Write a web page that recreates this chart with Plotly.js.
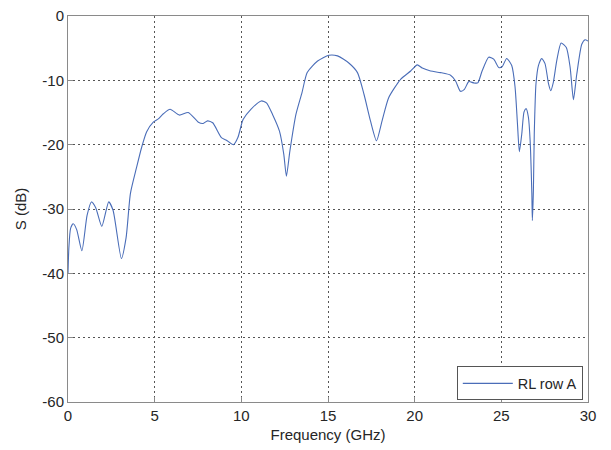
<!DOCTYPE html>
<html>
<head>
<meta charset="utf-8">
<script src="https://cdn.plot.ly/plotly-3.0.1.min.js"></script>
<style>html,body{margin:0;padding:0;background:#fff;}#chart{width:611px;height:450px;}</style>
</head>
<body>
<div id="chart"></div>
<script>
const freqGHz = [0, 0.05, 0.15, 0.3, 0.5, 0.8, 1.1, 1.35, 1.6, 1.95, 2.35, 2.6, 3.08, 3.35, 3.6, 3.96, 4.25, 4.54, 4.92, 5.21, 5.5, 5.89, 6.42, 6.94, 7.52, 7.8, 8.05, 8.35, 8.85, 9.14, 9.55, 9.8, 10.1, 10.55, 11.15, 11.45, 11.8, 12.2, 12.45, 12.6, 12.8, 13.15, 13.5, 13.8, 14.4, 15.05, 15.55, 16.2, 16.7, 17.08, 17.45, 17.8, 18.12, 18.5, 19.2, 19.77, 20.15, 20.44, 20.92, 21.49, 22.07, 22.36, 22.64, 22.87, 23.12, 23.41, 23.64, 23.89, 24.27, 24.56, 24.85, 25.04, 25.31, 25.6, 25.79, 25.93, 26.04, 26.18, 26.31, 26.43, 26.56, 26.66, 26.76, 26.79, 26.85, 26.9, 27.0, 27.14, 27.33, 27.52, 27.72, 27.85, 28.0, 28.2, 28.45, 28.75, 28.97, 29.16, 29.35, 29.64, 29.83, 30];
const rlRowA = [-40, -36, -33.0, -32.3, -33.2, -36.5, -31, -28.9, -29.8, -32.7, -28.9, -30.2, -37.7, -34.5, -27.6, -23.5, -20.4, -18.0, -16.5, -16.0, -15.2, -14.5, -15.4, -15.0, -16.5, -16.7, -16.3, -16.6, -18.9, -19.3, -20.0, -18.9, -16.1, -14.5, -13.2, -13.5, -15.3, -17.9, -21.5, -24.9, -21, -15.3, -11.9, -8.8, -7.0, -6.1, -6.2, -7.3, -8.8, -12.2, -16.3, -19.4, -16.3, -12.7, -9.8, -8.55, -7.6, -8.1, -8.55, -8.8, -9.2, -10.1, -11.7, -11.4, -10.2, -10.4, -10.4, -8.55, -6.4, -6.7, -8.0, -7.9, -6.6, -7.7, -11.0, -16.7, -21.1, -18.3, -14.9, -14.4, -15.7, -19.3, -27.6, -31.8, -27.1, -18.3, -10.5, -7.7, -6.6, -7.4, -10.5, -11.6, -10.3, -6.9, -4.2, -4.9, -8.0, -13.0, -9.1, -4.4, -3.7, -3.9];
const xTicks = [0, 5, 10, 15, 20, 25, 30];
const yTicks = [-60, -50, -40, -30, -20, -10, 0];
const seriesName = 'RL row A';

const fnt = {family: 'Liberation Sans, Arial, sans-serif', size: 15, color: '#262626'};
const axisCommon = {
  showline: true, mirror: true, linecolor: '#8a8a8a', linewidth: 1,
  showgrid: true, gridcolor: '#555', griddash: '2px,3px', gridwidth: 1,
  zeroline: false, ticks: 'inside', ticklen: 5, tickcolor: '#8a8a8a',
  tickfont: fnt, tickmode: 'array'
};
const data = [{
  x: freqGHz, y: rlRowA, type: 'scatter', mode: 'lines', name: seriesName,
  line: {color: '#4a6db8', width: 1.1, shape: 'spline', smoothing: 0.6}
}];
const layout = {
  width: 611, height: 450,
  margin: {l: 68, r: 23, t: 16, b: 48},
  paper_bgcolor: '#fff', plot_bgcolor: '#fff',
  showlegend: true,
  font: fnt,
  xaxis: Object.assign({}, axisCommon, {
    range: [0, 30], tickvals: xTicks, ticktext: xTicks.map(String),
    title: {text: 'Frequency (GHz)', font: fnt, standoff: 6}
  }),
  yaxis: Object.assign({}, axisCommon, {
    range: [-60, 0], tickvals: yTicks, ticktext: yTicks.map(String),
    title: {text: 'S (dB)', font: fnt, standoff: 12}
  }),
  legend: {
    x: 0.99, y: 0.004, xanchor: 'right', yanchor: 'bottom',
    bgcolor: '#fff', bordercolor: '#555', borderwidth: 1,
    itemwidth: 50, font: {family: fnt.family, size: 14.5, color: '#262626'}
  }
};
Plotly.newPlot('chart', data, layout, {displayModeBar: false, staticPlot: true});
</script>
</body>
</html>
